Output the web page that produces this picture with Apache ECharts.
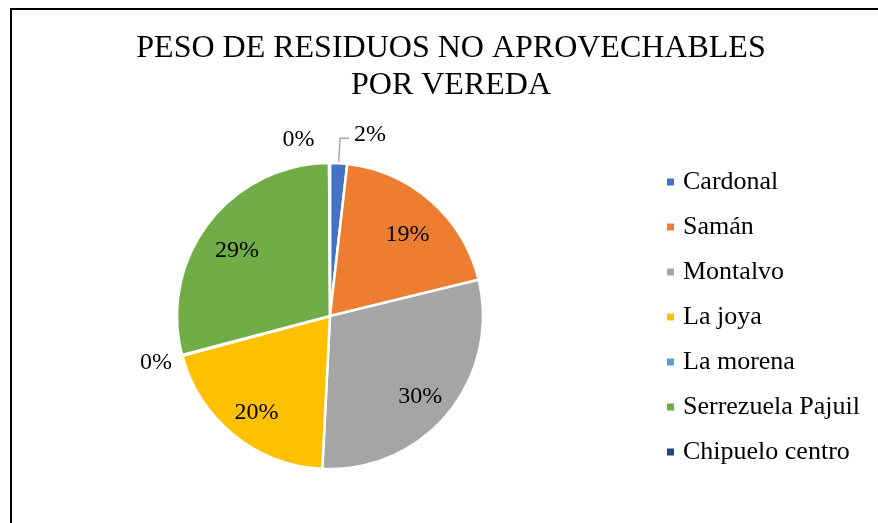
<!DOCTYPE html>
<html>
<head>
<meta charset="utf-8">
<script src="https://cdn.jsdelivr.net/npm/echarts@6/dist/echarts.min.js"></script>
<style>
html,body{margin:0;padding:0;background:#fff;}
#chart{width:878px;height:523px;}
</style>
</head>
<body>
<div id="chart"></div>
<script>
const titleText = 'PESO DE RESIDUOS NO APROVECHABLES\nPOR VEREDA';
const categories = ['Cardonal', 'Samán', 'Montalvo', 'La joya', 'La morena', 'Serrezuela Pajuil', 'Chipuelo centro'];
const values = [1.8, 19.4, 29.6, 20.0, 0.1, 29.0, 0.1];
const colors = ['#4472C4', '#ED7D31', '#A5A5A5', '#FFC000', '#5B9BD5', '#70AD47', '#264478'];

const FONT = "'Liberation Serif', 'Times New Roman', serif";
const pctFmt = p => Math.round(p.percent) + '%';

// label styling for the small slices (outside)
const outsideLabels = {
  0: { label: { show: true, position: 'outside' },
       labelLine: { show: true, length: 25, length2: 9, lineStyle: { color: '#A6A6A6', width: 1.5 } } },
  4: { label: { show: true, position: 'outside', distanceToLabelLine: 0 },
       labelLine: { show: false, length: 10.5, length2: 0 } },
  6: { label: { show: true, position: 'outside', distanceToLabelLine: 5 },
       labelLine: { show: false, length: 23, length2: 10 } }
};
// small nudges of outside label text (px)
const outsideNudge = { 0: -4, 4: 5 };

const mainData = categories.map((name, i) => {
  const base = { name: name, value: values[i], itemStyle: { color: colors[i] } };
  if (outsideLabels[i]) Object.assign(base, outsideLabels[i]);
  else base.label = { show: false };
  return base;
});

const overlayData = categories.map((name, i) => ({
  name: name, value: values[i],
  label: { show: !outsideLabels[i] }
}));

const chart = echarts.init(document.getElementById('chart'), null, { renderer: 'canvas' });
chart.setOption({
  backgroundColor: '#fff',
  animation: false,
  color: colors,
  legend: {
    orient: 'vertical',
    left: 665,
    top: 169,
    padding: 0,
    itemWidth: 9,
    itemHeight: 9,
    itemGap: 19,
    icon: 'rect',
    data: categories,
    textStyle: { fontFamily: FONT, fontSize: 26, color: '#000', lineHeight: 26, padding: [0, 0, 0, 3] }
  },
  graphic: [{
    type: 'rect',
    shape: { x: 11, y: 9, width: 1000, height: 1000 },
    style: { fill: 'none', stroke: '#000', lineWidth: 2 },
    silent: true
  }, {
    type: 'text',
    x: 451,
    y: 30,
    style: {
      text: titleText,
      align: 'center',
      verticalAlign: 'top',
      font: "32px 'Liberation Serif', 'Times New Roman', serif",
      lineHeight: 37,
      fill: '#000'
    },
    silent: true
  }],
  series: [{
    type: 'pie',
    center: [330, 316],
    radius: [0, 153],
    startAngle: 90,
    clockwise: true,
    avoidLabelOverlap: false,
    data: mainData,
    itemStyle: { borderColor: '#fff', borderWidth: 2.5 },
    label: { fontFamily: FONT, fontSize: 24, color: '#000', formatter: pctFmt },
    labelLayout: p => (outsideNudge[p.dataIndex] ? { dy: outsideNudge[p.dataIndex] } : {}),
    emphasis: { disabled: true }
  }, {
    type: 'pie',
    center: [330, 316],
    radius: [75, 153],
    startAngle: 90,
    clockwise: true,
    silent: true,
    avoidLabelOverlap: false,
    data: overlayData,
    itemStyle: { color: 'rgba(0,0,0,0)', borderWidth: 0 },
    label: { position: 'inside', fontFamily: FONT, fontSize: 24, color: '#000', formatter: pctFmt },
    labelLayout: { dy: 6 },
    labelLine: { show: false },
    emphasis: { disabled: true },
    tooltip: { show: false }
  }]
});
</script>
</body>
</html>
